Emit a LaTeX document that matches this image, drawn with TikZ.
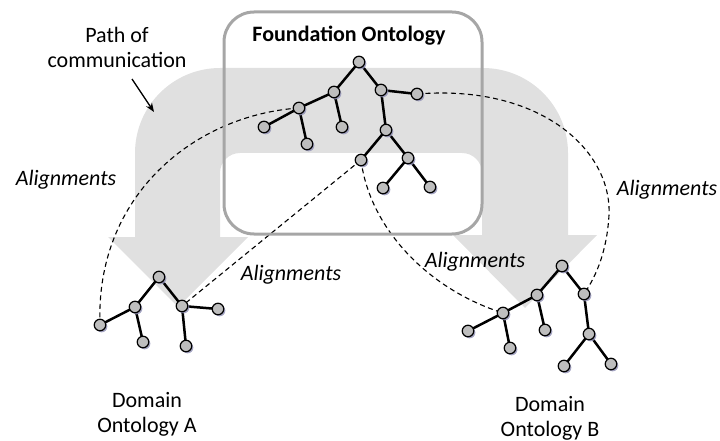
\documentclass[tikz,border=0pt]{standalone}
\usepackage{fontspec}
\setmainfont{Carlito}
\usetikzlibrary{shadows,arrows.meta}
\definecolor{bandc}{RGB}{224,224,224}
\definecolor{boxc}{RGB}{166,166,166}
\definecolor{nodec}{RGB}{190,190,190}
\definecolor{shadc}{RGB}{150,150,185}
\pgfdeclarelayer{band}
\pgfdeclarelayer{edges}
\pgfsetlayers{band,edges,main}
\tikzset{
  tn/.style={circle, draw=black, line width=1.2pt, fill=nodec, minimum size=11.5pt, inner sep=0pt,
    drop shadow={shadow xshift=1.6pt, shadow yshift=-1.6pt, fill=shadc, opacity=0.85}},
  tedge/.style={line width=2.5pt, black},
  align line/.style={line width=1.1pt, black, dash pattern=on 5pt off 3.5pt},
  lbl/.style={inner sep=0pt, font=\fontsize{22}{25}\selectfont},
  ilbl/.style={inner sep=0pt, font=\fontsize{22}{25}\selectfont\itshape, anchor=base},
}
\begin{document}
\begin{tikzpicture}[x=1pt,y=-1pt]
\useasboundingbox (0,0) rectangle (720,441);
% grey band (path of communication)
\begin{pgfonlayer}{band}
\fill[bandc] (108,237) -- (178,307) -- (248,237) -- (220,237) -- (220,173)
  .. controls (220,161.95) and (228.95,153) .. (240,153) -- (462,153)
  .. controls (473.05,153) and (482,161.95) .. (482,173) -- (482,235) -- (453,235)
  -- (525,308) -- (597,235) -- (568,235) -- (568,153)
  .. controls (568,106.1) and (529.9,68) .. (483,68) -- (220,68)
  .. controls (173.1,68) and (135,106.1) .. (135,153) -- (135,237) -- cycle;
\end{pgfonlayer}
% foundation box
\draw[boxc, line width=3pt, rounded corners=30pt] (224,12) rectangle (482,234);
\node[lbl, anchor=base, font=\fontsize{22}{25}\selectfont\bfseries] (ft) at (349,42) {Foundation Ontology};
% labels
\node[lbl, align=center] (pc) at (117,47) {Path of\\communication};
\coordinate (pa) at (132,79);
\coordinate (pb) at (154,112);
\draw[line width=1.3pt, -{Stealth[length=9pt,width=7pt]}] (pa) -- (pb);
\node[ilbl] (al1) at (66,185) {Alignments};
\node[ilbl] (al2) at (291,280) {Alignments};
\node[ilbl] (al3) at (475,267) {Alignments};
\node[ilbl] (al4) at (667,195) {Alignments};
\node[lbl, align=center] (da) at (147,414) {Domain\\Ontology A};
\node[lbl, align=center] (db) at (550,418) {Domain\\Ontology B};
% foundation tree
\node[tn] (f0) at (359,62) {};
\node[tn] (f1) at (334,92) {};
\node[tn] (f2) at (381,90) {};
\node[tn] (f3) at (417,94) {};
\node[tn] (f4) at (299,108) {};
\node[tn] (f5) at (342,127) {};
\node[tn] (f6) at (264,127) {};
\node[tn] (f7) at (307,144) {};
\node[tn] (f8) at (386,130) {};
\node[tn] (f9) at (361,160) {};
\node[tn] (f10) at (408,158) {};
\node[tn] (f11) at (383,188) {};
\node[tn] (f12) at (430,187) {};
% domain A tree
\node[tn] (a0) at (159,277) {};
\node[tn] (a1) at (135,307) {};
\node[tn] (a2) at (182,306) {};
\node[tn] (a3) at (100,325) {};
\node[tn] (a4) at (143,342) {};
\node[tn] (a5) at (218,309) {};
\node[tn] (a6) at (186,346) {};
% domain B tree
\node[tn] (b0) at (562,266) {};
\node[tn] (b1) at (537,295) {};
\node[tn] (b2) at (584,294) {};
\node[tn] (b3) at (503,313) {};
\node[tn] (b4) at (468,331) {};
\node[tn] (b5) at (510,348) {};
\node[tn] (b6) at (545,330) {};
\node[tn] (b7) at (589,334) {};
\node[tn] (b8) at (564,366) {};
\node[tn] (b9) at (611,364) {};
\begin{pgfonlayer}{edges}
\draw[tedge] (f0.center) -- (f1.center) (f0.center) -- (f2.center) (f2.center) -- (f3.center)
  (f1.center) -- (f4.center) (f1.center) -- (f5.center) (f4.center) -- (f6.center)
  (f4.center) -- (f7.center) (f2.center) -- (f8.center) (f8.center) -- (f9.center)
  (f8.center) -- (f10.center) (f10.center) -- (f11.center) (f10.center) -- (f12.center);
\draw[tedge] (a0.center) -- (a1.center) (a0.center) -- (a2.center) (a1.center) -- (a3.center)
  (a1.center) -- (a4.center) (a2.center) -- (a5.center) (a2.center) -- (a6.center);
\draw[tedge] (b0.center) -- (b1.center) (b0.center) -- (b2.center) (b1.center) -- (b3.center)
  (b1.center) -- (b6.center) (b3.center) -- (b4.center) (b3.center) -- (b5.center)
  (b2.center) -- (b7.center) (b7.center) -- (b8.center) (b7.center) -- (b9.center);
% alignments
\draw[align line] (f4.center) .. controls (195,115) and (95,195) .. (a3.center);
\draw[align line] (f3.center) .. controls (540,84) and (612,150) .. (609,215)
  .. controls (607,250) and (597,275) .. (b2.center);
\draw[align line] (f9.center) -- (a2.center);
\draw[align line] (f9.center) .. controls (370,230) and (430,290) .. (b3.center);
\end{pgfonlayer}
\end{tikzpicture}
\end{document}
